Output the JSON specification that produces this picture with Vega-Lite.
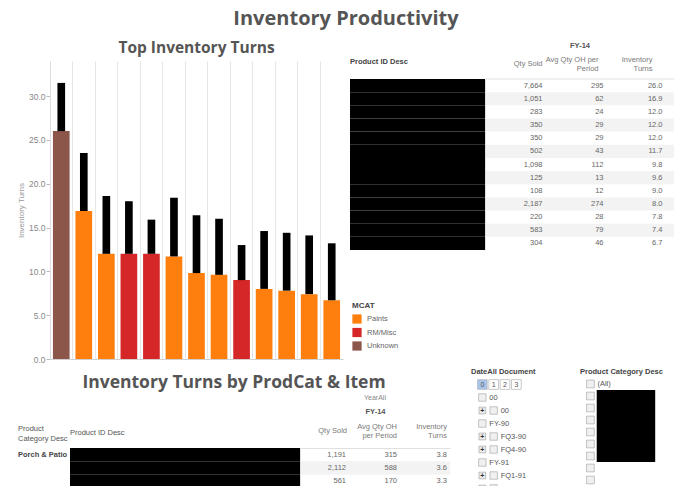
{
  "$schema": "https://vega.github.io/schema/vega-lite/v6.json",
  "background": "white",
  "padding": {"left": 17, "top": 8, "right": 0, "bottom": 0},
  "title": {"text": "Inventory Productivity", "font": "Open Sans", "fontSize": 20, "fontWeight": "bold", "color": "#555555", "anchor": "middle", "offset": 12},
  "config": {
    "view": {"stroke": null},
    "font": "Liberation Sans",
    "axis": {"labelFont": "Liberation Sans", "titleFont": "Liberation Sans"},
    "legend": {"labelFont": "Liberation Sans", "titleFont": "Liberation Sans"},
    "title": {"font": "Liberation Sans"}
  },
  "datasets": {
    "top": [
      {"rank": 1, "mcat": "Unknown", "turns": 26.0, "high": 31.5, "qty": 7664, "oh": 295},
      {"rank": 2, "mcat": "Paints", "turns": 16.9, "high": 23.5, "qty": 1051, "oh": 62},
      {"rank": 3, "mcat": "Paints", "turns": 12.0, "high": 18.6, "qty": 283, "oh": 24},
      {"rank": 4, "mcat": "RM/Misc", "turns": 12.0, "high": 18.0, "qty": 350, "oh": 29},
      {"rank": 5, "mcat": "RM/Misc", "turns": 12.0, "high": 15.9, "qty": 350, "oh": 29},
      {"rank": 6, "mcat": "Paints", "turns": 11.7, "high": 18.4, "qty": 502, "oh": 43},
      {"rank": 7, "mcat": "Paints", "turns": 9.8, "high": 16.4, "qty": 1098, "oh": 112},
      {"rank": 8, "mcat": "Paints", "turns": 9.6, "high": 16.0, "qty": 125, "oh": 13},
      {"rank": 9, "mcat": "RM/Misc", "turns": 9.0, "high": 13.0, "qty": 108, "oh": 12},
      {"rank": 10, "mcat": "Paints", "turns": 8.0, "high": 14.6, "qty": 2187, "oh": 274},
      {"rank": 11, "mcat": "Paints", "turns": 7.8, "high": 14.4, "qty": 220, "oh": 28},
      {"rank": 12, "mcat": "Paints", "turns": 7.4, "high": 14.1, "qty": 583, "oh": 79},
      {"rank": 13, "mcat": "Paints", "turns": 6.7, "high": 13.2, "qty": 304, "oh": 46}
    ],
    "bottom": [
      {"row": 1, "cat": "Porch & Patio", "qty": 1191, "oh": 315, "turns": 3.8},
      {"row": 2, "cat": "", "qty": 2112, "oh": 588, "turns": 3.6},
      {"row": 3, "cat": "", "qty": 561, "oh": 170, "turns": 3.3}
    ],
    "datefilter": [
      {"i": 0, "kind": "tab", "label": "0", "depth": 0, "plus": false},
      {"i": 0, "kind": "tab", "label": "1", "depth": 1, "plus": false},
      {"i": 0, "kind": "tab", "label": "2", "depth": 2, "plus": false},
      {"i": 0, "kind": "tab", "label": "3", "depth": 3, "plus": false},
      {"i": 1, "kind": "item", "label": "00", "depth": 0, "plus": false},
      {"i": 2, "kind": "item", "label": "00", "depth": 1, "plus": true},
      {"i": 3, "kind": "item", "label": "FY-90", "depth": 0, "plus": false},
      {"i": 4, "kind": "item", "label": "FQ3-90", "depth": 1, "plus": true},
      {"i": 5, "kind": "item", "label": "FQ4-90", "depth": 1, "plus": true},
      {"i": 6, "kind": "item", "label": "FY-91", "depth": 0, "plus": false},
      {"i": 7, "kind": "item", "label": "FQ1-91", "depth": 1, "plus": true},
      {"i": 8, "kind": "item", "label": "FQ2-91", "depth": 1, "plus": true}
    ],
    "catfilter": [
      {"i": 0, "label": "(All)", "redacted": false},
      {"i": 1, "label": "", "redacted": true},
      {"i": 2, "label": "", "redacted": true},
      {"i": 3, "label": "", "redacted": true},
      {"i": 4, "label": "", "redacted": true},
      {"i": 5, "label": "", "redacted": true},
      {"i": 6, "label": "", "redacted": true},
      {"i": 7, "label": "", "redacted": false},
      {"i": 8, "label": "", "redacted": false},
      {"i": 9, "label": "", "redacted": false}
    ]
  },
  "spacing": 3,
  "align": "none",
  "resolve": {"scale": {"color": "independent"}, "legend": {"color": "independent"}},
  "vconcat": [
    {
      "spacing": 7,
      "resolve": {"scale": {"color": "independent"}, "legend": {"color": "independent"}},
      "hconcat": [
        {
          "title": {"text": "Top Inventory Turns", "font": "Open Sans", "fontSize": 15.5, "fontWeight": "bold", "color": "#555555", "anchor": "middle", "offset": 5},
          "width": 293,
          "height": 298,
          "data": {"name": "top"},
          "encoding": {
            "x": {"field": "rank", "type": "ordinal", "scale": {"paddingInner": 0, "paddingOuter": 0},
                  "axis": {"labels": false, "ticks": false, "title": null, "domainColor": "#d0d0d0", "grid": true, "gridColor": "#e6e6e6", "bandPosition": 0}}
          },
          "layer": [
            {
              "mark": {"type": "bar", "width": {"band": 0.74}},
              "encoding": {
                "y": {"field": "turns", "type": "quantitative", "stack": null, "scale": {"domain": [0, 34], "nice": false},
                      "axis": {"title": "Inventory Turns", "values": [0, 5, 10, 15, 20, 25, 30], "format": ".1f", "grid": false,
                               "labelFontSize": 8.5, "labelColor": "#888888", "titleFontSize": 8, "titleColor": "#999999", "titleFontWeight": "normal",
                               "domainColor": "#dddddd", "tickColor": "#bbbbbb", "tickSize": 4, "labelPadding": 1, "titlePadding": 3}},
                "color": {"field": "mcat", "type": "nominal", "scale": {"domain": ["Paints", "RM/Misc", "Unknown"], "range": ["#ff7f0e", "#d62728", "#8c564b"]}, "legend": null}
              }
            },
            {
              "mark": {"type": "bar", "width": {"band": 0.34}, "color": "black"},
              "encoding": {
                "y": {"field": "turns", "type": "quantitative", "stack": null},
                "y2": {"field": "high"}
              }
            }
          ]
        },
        {
          "spacing": 0,
          "bounds": "flush",
          "resolve": {"scale": {"color": "independent"}, "legend": {"color": "independent"}},
          "hconcat": [
            {
              "width": 135,
              "height": 189,
              "title": {"text": "Product ID Desc", "anchor": "start", "fontSize": 7.5, "fontWeight": "bold", "color": "#444444", "offset": -4},
              "data": {"name": "top"},
              "layer": [
                {
                  "mark": {"type": "rect", "color": "black"},
                  "encoding": {"y": {"field": "rank", "type": "ordinal", "axis": null, "scale": {"range": [18, 189], "paddingInner": 0, "paddingOuter": 0}}}
                },
                {
                  "mark": {"type": "point", "filled": true, "opacity": 0, "size": 0},
                  "encoding": {
                    "color": {"field": "mcat", "type": "nominal",
                              "scale": {"domain": ["Paints", "RM/Misc", "Unknown"], "range": ["#ff7f0e", "#d62728", "#8c564b"]},
                              "legend": {"title": "MCAT", "orient": "none", "legendX": 2, "legendY": 241, "titleFontSize": 8, "titleFontWeight": "bold", "titleColor": "#444444", "titlePadding": 4,
                                         "labelFontSize": 7.5, "labelColor": "#666666", "symbolType": "square", "symbolSize": 85, "symbolOpacity": 1, "symbolStrokeWidth": 0, "rowPadding": 3.5, "labelOffset": 5}}
                  }
                }
              ]
            },
            {
              "width": 189,
              "height": 189,
              "data": {"name": "top"},
              "encoding": {
                "y": {"field": "rank", "type": "ordinal", "scale": {"range": [18, 189], "paddingInner": 0, "paddingOuter": 0},
                      "axis": {"orient": "left", "labels": false, "ticks": false, "title": null, "domainColor": "#e0e0e0"}}
              },
              "layer": [
                {
                  "transform": [{"filter": "datum.rank % 2 == 0"}],
                  "mark": {"type": "rect", "color": "#f3f3f3"}
                },
                {
                  "transform": [{"filter": "datum.rank == 1"}],
                  "mark": {"type": "rule", "color": "#e2e2e2", "strokeWidth": 1},
                  "encoding": {"y": {"field": "rank", "type": "ordinal", "bandPosition": 0}}
                },
                {
                  "mark": {"type": "text", "align": "right", "baseline": "middle", "dx": 26, "fontSize": 7.5, "color": "#666666"},
                  "encoding": {
                    "x": {"datum": "Qty Sold", "type": "nominal",
                          "scale": {"type": "band", "domain": ["Qty Sold", "Avg Qty OH per Period", "Inventory Turns"], "paddingInner": 0, "paddingOuter": 0},
                          "axis": {"orient": "top", "title": "FY-14", "titleFontSize": 7.5, "titleFontWeight": "bold", "titleColor": "#555555", "titlePadding": 5.5,
                                   "labelFontSize": 7.5, "labelColor": "#7a7a7a", "labelAlign": "right",
                                   "labelBaseline": {"condition": {"test": "datum.value == 'Qty Sold'", "value": "top"}, "value": "middle"},
                                   "labelPadding": 2, "labelLineHeight": 9,
                                   "labelOffset": {"condition": [{"test": "datum.value == 'Qty Sold'", "value": 26}, {"test": "datum.value == 'Avg Qty OH per Period'", "value": 19}], "value": 10},
                                   "labelAngle": 0, "labelOverlap": false, "labelBound": false,
                                   "labelExpr": "datum.value == 'Avg Qty OH per Period' ? ['Avg Qty OH per', 'Period'] : datum.value == 'Inventory Turns' ? ['Inventory', 'Turns'] : datum.value",
                                   "ticks": false, "tickSize": 0, "domain": false, "grid": false}},
                    "text": {"field": "qty", "type": "quantitative", "format": ","}
                  }
                },
                {
                  "mark": {"type": "text", "align": "right", "baseline": "middle", "dx": 24, "fontSize": 7.5, "color": "#666666"},
                  "encoding": {
                    "x": {"datum": "Avg Qty OH per Period", "type": "nominal"},
                    "text": {"field": "oh", "type": "quantitative", "format": "d"}
                  }
                },
                {
                  "mark": {"type": "text", "align": "right", "baseline": "middle", "dx": 20, "fontSize": 7.5, "color": "#666666"},
                  "encoding": {
                    "x": {"datum": "Inventory Turns", "type": "nominal"},
                    "text": {"field": "turns", "type": "quantitative", "format": ".1f"}
                  }
                }
              ]
            }
          ]
        }
      ]
    },
    {
      "spacing": 21,
      "hconcat": [
        {
          "title": {"text": "Inventory Turns by ProdCat & Item", "font": "Open Sans", "fontSize": 17.5, "fontWeight": "bold", "color": "#555555", "anchor": "middle", "offset": 3},
          "spacing": 0,
          "bounds": "flush",
          "hconcat": [
            {
              "width": 20,
              "height": 40,
              "title": {"text": ["Product", "Category Desc"], "anchor": "start", "fontSize": 7.5, "fontWeight": "normal", "color": "#555555", "offset": 6, "lineHeight": 10},
              "data": {"name": "bottom"},
              "mark": {"type": "text", "align": "left", "baseline": "middle", "fontSize": 7.5, "fontWeight": "bold", "color": "#444444"},
              "encoding": {
                "y": {"field": "row", "type": "ordinal", "axis": null, "scale": {"paddingInner": 0, "paddingOuter": 0}},
                "x": {"datum": "Product Category Desc", "type": "nominal", "bandPosition": 0, "scale": {"type": "band", "range": [-32, 20], "paddingInner": 0, "paddingOuter": 0}, "axis": null},
                "text": {"field": "cat"}
              }
            },
            {
              "width": 230,
              "height": 40,
              "title": {"text": "Product ID Desc", "anchor": "start", "fontSize": 7.5, "fontWeight": "normal", "color": "#555555", "offset": 12},
              "data": {"name": "bottom"},
              "mark": {"type": "rect", "color": "black"},
              "encoding": {"y": {"field": "row", "type": "ordinal", "axis": null, "scale": {"paddingInner": 0, "paddingOuter": 0}}}
            },
            {
              "width": 150,
              "height": 40,
              "title": {"text": "YearAll", "anchor": "middle", "fontSize": 7, "fontWeight": "normal", "color": "#888888", "offset": 6},
              "data": {"name": "bottom"},
              "encoding": {
                "y": {"field": "row", "type": "ordinal", "scale": {"paddingInner": 0, "paddingOuter": 0},
                      "axis": {"orient": "left", "labels": false, "ticks": false, "title": null, "domainColor": "#e0e0e0"}}
              },
              "layer": [
                {
                  "transform": [{"filter": "datum.row % 2 == 0"}],
                  "mark": {"type": "rect", "color": "#f3f3f3"}
                },
                {
                  "mark": {"type": "text", "align": "right", "baseline": "middle", "dx": 21, "fontSize": 7.5, "color": "#666666"},
                  "encoding": {
                    "x": {"datum": "Qty Sold", "type": "nominal",
                          "scale": {"type": "band", "domain": ["Qty Sold", "Avg Qty OH per Period", "Inventory Turns"], "paddingInner": 0, "paddingOuter": 0},
                          "axis": {"orient": "top", "title": "FY-14", "titleFontSize": 7.5, "titleFontWeight": "bold", "titleColor": "#555555", "titlePadding": 7,
                                   "labelFontSize": 7.5, "labelColor": "#7a7a7a", "labelAlign": "right",
                                   "labelBaseline": {"condition": {"test": "datum.value == 'Qty Sold'", "value": "top"}, "value": "middle"},
                                   "labelPadding": 22, "labelLineHeight": 9,
                                   "labelOffset": 22, "labelAngle": 0, "labelOverlap": false, "labelBound": false,
                                   "labelExpr": "datum.value == 'Avg Qty OH per Period' ? ['Avg Qty OH', 'per Period'] : datum.value == 'Inventory Turns' ? ['Inventory', 'Turns'] : datum.value",
                                   "ticks": false, "tickSize": 0, "domain": true, "domainColor": "#e0e0e0", "grid": false}},
                    "text": {"field": "qty", "type": "quantitative", "format": ","}
                  }
                },
                {
                  "mark": {"type": "text", "align": "right", "baseline": "middle", "dx": 22, "fontSize": 7.5, "color": "#666666"},
                  "encoding": {
                    "x": {"datum": "Avg Qty OH per Period", "type": "nominal"},
                    "text": {"field": "oh", "type": "quantitative", "format": "d"}
                  }
                },
                {
                  "mark": {"type": "text", "align": "right", "baseline": "middle", "dx": 22, "fontSize": 7.5, "color": "#666666"},
                  "encoding": {
                    "x": {"datum": "Inventory Turns", "type": "nominal"},
                    "text": {"field": "turns", "type": "quantitative", "format": ".1f"}
                  }
                }
              ]
            }
          ]
        },
        {
          "spacing": 7,
          "bounds": "flush",
          "hconcat": [
            {
              "width": 102,
              "height": 47,
              "title": {"text": "DateAll Document", "anchor": "start", "fontSize": 7.5, "fontWeight": "bold", "color": "#444444", "offset": 3},
              "data": {"name": "datefilter"},
              "encoding": {
                "y": {"field": "i", "type": "ordinal", "axis": null, "scale": {"domain": [0, 1, 2, 3, 4, 5, 6, 7, 8], "range": [-70, 47], "paddingInner": 0, "paddingOuter": 0}}
              },
              "layer": [
                {
                  "transform": [{"filter": "datum.kind == 'tab'"}],
                  "mark": {"type": "point", "shape": "square", "size": 95, "filled": true, "stroke": "#bbbbbb", "strokeWidth": 0.8, "opacity": 1},
                  "encoding": {
                    "x": {"field": "depth", "type": "quantitative", "scale": {"domain": [-0.5, 7.5]}, "axis": null},
                    "fill": {"condition": {"test": "datum.label == '0'", "value": "#a9c4ea"}, "value": "white"}
                  }
                },
                {
                  "transform": [{"filter": "datum.kind == 'tab'"}],
                  "mark": {"type": "text", "fontSize": 7, "color": "#555555", "align": "center", "baseline": "middle"},
                  "encoding": {
                    "x": {"field": "depth", "type": "quantitative"},
                    "text": {"field": "label"}
                  }
                },
                {
                  "transform": [{"filter": "datum.kind == 'item' && datum.plus"}],
                  "mark": {"type": "point", "shape": "square", "size": 45, "filled": true, "color": "#eeeeee", "stroke": "#999999", "strokeWidth": 0.6, "opacity": 1},
                  "encoding": {"x": {"datum": 0, "type": "quantitative"}}
                },
                {
                  "transform": [{"filter": "datum.kind == 'item' && datum.plus"}],
                  "mark": {"type": "text", "text": "+", "fontSize": 7, "fontWeight": "bold", "color": "#333333", "align": "center", "baseline": "middle"},
                  "encoding": {"x": {"datum": 0, "type": "quantitative"}}
                },
                {
                  "transform": [{"filter": "datum.kind == 'item'"}],
                  "mark": {"type": "point", "shape": "square", "size": 55, "filled": true, "color": "#f0f0f0", "stroke": "#aaaaaa", "strokeWidth": 0.7, "opacity": 1},
                  "encoding": {"x": {"field": "depth", "type": "quantitative"}}
                },
                {
                  "transform": [{"filter": "datum.kind == 'item'"}],
                  "mark": {"type": "text", "align": "left", "baseline": "middle", "dx": 7, "fontSize": 7.5, "color": "#555555"},
                  "encoding": {"x": {"field": "depth", "type": "quantitative"}, "text": {"field": "label"}}
                }
              ]
            },
            {
              "width": 94,
              "height": 50,
              "title": {"text": "Product Category Desc", "anchor": "start", "fontSize": 7.5, "fontWeight": "bold", "color": "#444444", "offset": 3},
              "data": {"name": "catfilter"},
              "encoding": {
                "y": {"field": "i", "type": "ordinal", "axis": null, "scale": {"range": [-70, 50], "paddingInner": 0, "paddingOuter": 0}}
              },
              "layer": [
                {
                  "mark": {"type": "point", "shape": "square", "size": 60, "filled": true, "color": "#f0f0f0", "stroke": "#aaaaaa", "strokeWidth": 0.7, "opacity": 1},
                  "encoding": {"x": {"datum": 0, "type": "quantitative", "scale": {"domain": [-0.5, 7.5]}, "axis": null}}
                },
                {
                  "mark": {"type": "text", "align": "left", "baseline": "middle", "dx": 7, "fontSize": 7.5, "color": "#555555"},
                  "encoding": {"x": {"datum": 0, "type": "quantitative"}, "text": {"field": "label"}}
                },
                {
                  "transform": [{"filter": "datum.redacted"}],
                  "mark": {"type": "rect", "color": "black"},
                  "encoding": {"x": {"datum": 0.6, "type": "quantitative"}, "x2": {"datum": 6.2}}
                }
              ]
            }
          ]
        }
      ]
    }
  ]
}
